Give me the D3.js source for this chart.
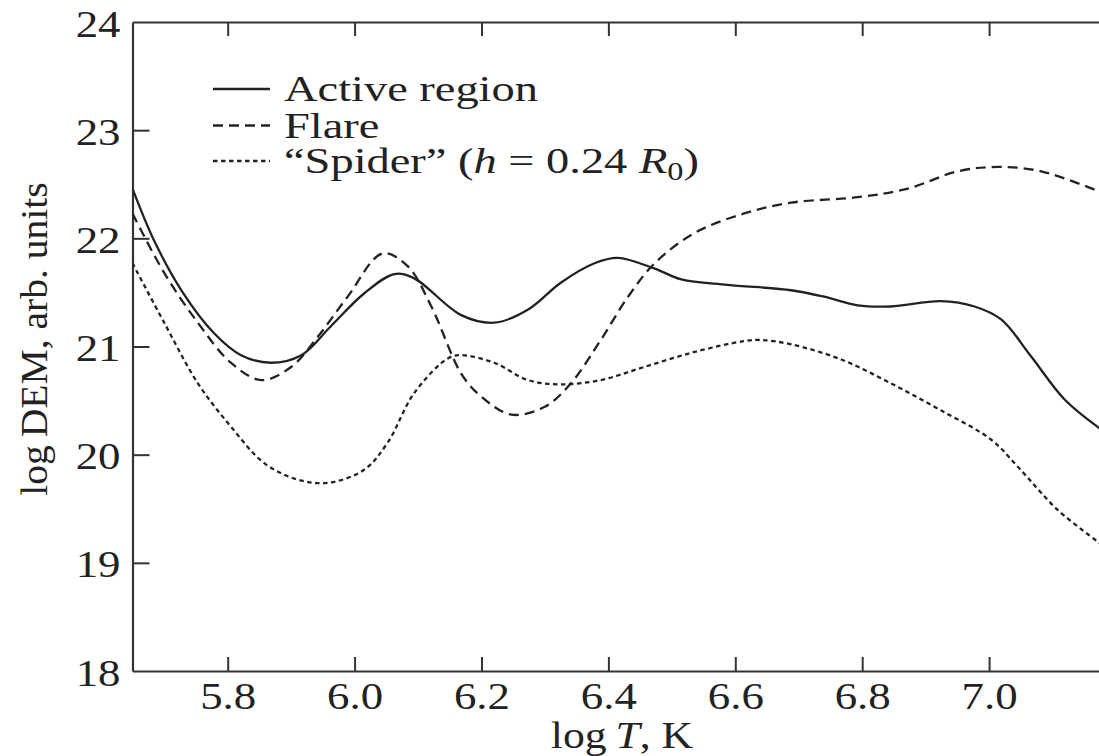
<!DOCTYPE html>
<html>
<head>
<meta charset="utf-8">
<script src="https://cdn.jsdelivr.net/npm/d3@7"></script>
<style>
  body { margin: 0; background: #fff; }
  svg { display: block; }
  text { font-family: "Liberation Serif", "Times New Roman", serif; fill: #222; }
</style>
</head>
<body>
<div id="chart"></div>
<script>
// values (log T, log DEM)
var xTicks = [5.8, 6.0, 6.2, 6.4, 6.6, 6.8, 7.0];
var yTicks = [18, 19, 20, 21, 22, 23, 24];

var activeT = [5.65, 5.684, 5.727, 5.779, 5.821, 5.868, 5.916, 5.963, 6.015, 6.063, 6.094, 6.168, 6.220, 6.273, 6.325, 6.378, 6.415, 6.473, 6.515, 6.588, 6.688, 6.740, 6.793, 6.845, 6.924, 6.977, 7.019, 7.066, 7.119, 7.175];
var activeV = [22.46, 21.98, 21.52, 21.12, 20.92, 20.85, 20.92, 21.19, 21.49, 21.67, 21.63, 21.29, 21.22, 21.34, 21.59, 21.77, 21.82, 21.72, 21.62, 21.57, 21.52, 21.46, 21.38, 21.37, 21.42, 21.37, 21.25, 20.91, 20.51, 20.24];

var flareT = [5.65, 5.70, 5.753, 5.805, 5.853, 5.90, 5.942, 5.989, 6.044, 6.084, 6.121, 6.168, 6.199, 6.247, 6.299, 6.341, 6.388, 6.431, 6.473, 6.536, 6.614, 6.688, 6.793, 6.872, 6.951, 7.014, 7.082, 7.175];
var flareV = [22.23, 21.68, 21.22, 20.85, 20.69, 20.81, 21.09, 21.46, 21.86, 21.74, 21.37, 20.75, 20.54, 20.37, 20.44, 20.66, 21.06, 21.46, 21.77, 22.05, 22.23, 22.33, 22.38, 22.46, 22.62, 22.66, 22.62, 22.43];

var spiderT = [5.65, 5.70, 5.753, 5.805, 5.858, 5.910, 5.958, 6.015, 6.052, 6.094, 6.147, 6.168, 6.220, 6.273, 6.325, 6.388, 6.456, 6.536, 6.614, 6.640, 6.688, 6.767, 6.845, 6.924, 7.003, 7.045, 7.108, 7.175];
var spiderV = [21.77, 21.22, 20.66, 20.26, 19.92, 19.77, 19.74, 19.86, 20.11, 20.57, 20.89, 20.92, 20.85, 20.69, 20.65, 20.69, 20.81, 20.95, 21.05, 21.06, 21.02, 20.88, 20.66, 20.41, 20.14, 19.89, 19.49, 19.18];

var width = 1099, height = 756;
var plotL = 132.5, plotR = 1116, plotT = 22, plotB = 671;
var sx = 1.15; // the type in the figure is a little wide

var x = d3.scaleLinear().domain([5.65, 7.2]).range([plotL, plotR]);
var y = d3.scaleLinear().domain([18, 24]).range([plotB, plotT]);

var svg = d3.select('#chart').append('svg')
	.attr('width', width)
	.attr('height', height);

svg.append('defs').append('clipPath').attr('id', 'plot')
	.append('rect')
	.attr('x', plotL).attr('y', plotT)
	.attr('width', plotR - plotL).attr('height', plotB - plotT);

// axes, ticks pointing inward
function styleAxis(g) {
	g.select('.domain').attr('stroke', '#333').attr('stroke-width', 2.2);
	g.selectAll('.tick line').attr('stroke', '#333').attr('stroke-width', 2);
}

var gx = svg.append('g')
	.attr('transform', 'translate(0,' + plotB + ')')
	.call(d3.axisBottom(x).tickValues(xTicks).tickSize(-14).tickSizeOuter(0).tickFormat(d3.format('.1f')));
styleAxis(gx);
gx.selectAll('.tick text')
	.attr('y', 38).attr('dy', 0)
	.attr('font-size', 39)
	.attr('transform', 'scale(' + sx + ',1)');

svg.append('g')
	.attr('transform', 'translate(0,' + plotT + ')')
	.call(d3.axisTop(x).tickValues(xTicks).tickSize(-14).tickSizeOuter(0).tickFormat(''))
	.call(styleAxis);

var gy = svg.append('g')
	.attr('transform', 'translate(' + plotL + ',0)')
	.call(d3.axisLeft(y).tickValues(yTicks).tickSize(-17).tickSizeOuter(0).tickFormat(d3.format('d')));
styleAxis(gy);
gy.selectAll('.tick line').filter(function(d) { return d == 18 || d == 24; }).remove();
gy.selectAll('.tick text')
	.attr('x', -12 / sx).attr('dy', '0.36em')
	.attr('font-size', 39)
	.attr('transform', 'scale(' + sx + ',1)');

svg.append('g')
	.attr('transform', 'translate(' + plotR + ',0)')
	.call(d3.axisRight(y).tickValues(yTicks).tickSize(-17).tickSizeOuter(0).tickFormat(''))
	.call(styleAxis);

// axis titles
var xt = svg.append('text')
	.attr('transform', 'translate(622,748) scale(' + sx + ',1)')
	.attr('text-anchor', 'middle')
	.attr('font-size', 38);
xt.append('tspan').text('log\u2009');
xt.append('tspan').attr('font-style', 'italic').text('T');
xt.append('tspan').text(', K');

svg.append('text')
	.attr('transform', 'translate(47,339) rotate(-90) scale(1.07,1)')
	.attr('text-anchor', 'middle')
	.attr('font-size', 37)
	.text('log\u2009DEM, arb. units');

// curves
var line = d3.line()
	.curve(d3.curveCatmullRom.alpha(0.5))
	.x(function(d) { return x(d[0]); })
	.y(function(d) { return y(d[1]); });

function pairs(t, v) { return t.map(function(d, i) { return [d, v[i]]; }); }

var series = [
	{ name: 'Active region', data: pairs(activeT, activeV), dash: null },
	{ name: 'Flare', data: pairs(flareT, flareV), dash: '10,6' },
	{ name: 'Spider', data: pairs(spiderT, spiderV), dash: '4.5,3.5' }
];

var plot = svg.append('g').attr('clip-path', 'url(#plot)');
series.forEach(function(s) {
	plot.append('path')
		.datum(s.data)
		.attr('d', line)
		.attr('fill', 'none')
		.attr('stroke', '#222')
		.attr('stroke-width', 2.3)
		.attr('stroke-dasharray', s.dash);
});

// legend
var legendY = [89, 125.5, 161];
series.forEach(function(s, i) {
	svg.append('line')
		.attr('x1', 213).attr('x2', 270)
		.attr('y1', legendY[i]).attr('y2', legendY[i])
		.attr('stroke', '#222')
		.attr('stroke-width', 2.6)
		.attr('stroke-dasharray', s.dash);
});
var lsx = 1.29;
function legendText(i) {
	return svg.append('text')
		.attr('transform', 'translate(284,' + (legendY[i] + 12) + ') scale(' + lsx + ',1)')
		.attr('font-size', 36);
}
legendText(0).text('Active region');
legendText(1).text('Flare');
var t3 = legendText(2);
t3.append('tspan').text('\u201cSpider\u201d (');
t3.append('tspan').attr('font-style', 'italic').text('h');
t3.append('tspan').text(' = 0.24 ');
t3.append('tspan').attr('font-style', 'italic').text('R');
t3.append('tspan').attr('font-size', 25).attr('dy', 7).text('0');
t3.append('tspan').attr('dy', -7).text(')');
</script>
</body>
</html>
